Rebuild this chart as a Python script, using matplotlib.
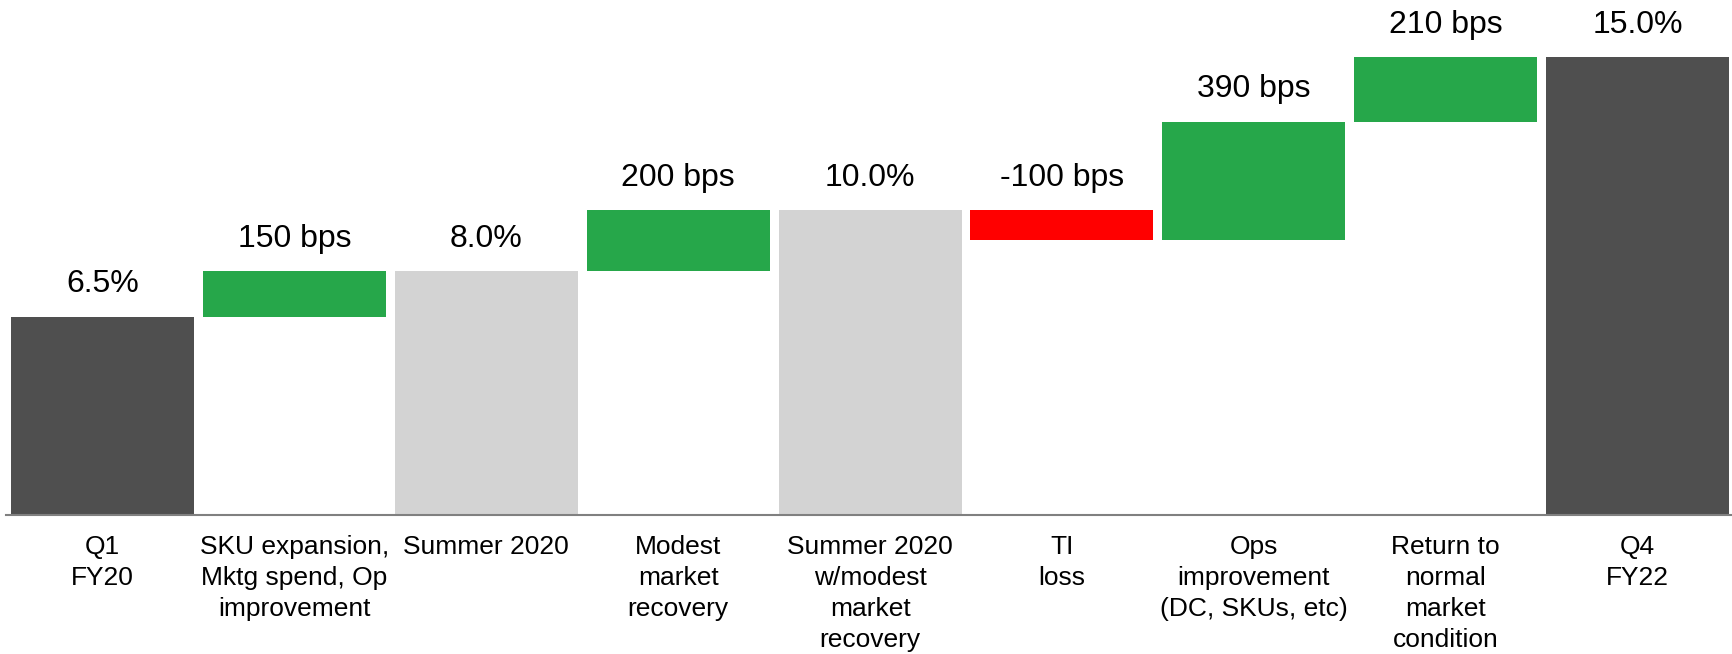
import numpy as np
import matplotlib.pyplot as plt

plt.rcParams['font.family'] = ['Liberation Sans', 'DejaVu Sans']

categories = ["Q1\nFY20", "SKU expansion,\nMktg spend, Op\nimprovement", "Summer 2020",
              "Modest\nmarket\nrecovery", "Summer 2020\nw/modest\nmarket\nrecovery",
              "TI\nloss", "Ops\nimprovement\n(DC, SKUs, etc)",
              "Return to\nnormal\nmarket\ncondition", "Q4\nFY22"]
values = [6.5, 1.5, 8.0, 2.0, 10.0, -1.0, 3.9, 2.1, 15.0]
kinds = ["total", "delta", "subtotal", "delta", "subtotal", "delta", "delta", "delta", "total"]

# colours per bar kind
def bar_color(kind, v):
    if kind == "total":
        return "#4f4f4f"
    if kind == "subtotal":
        return "#d3d3d3"
    return "#26a74a" if v >= 0 else "#ff0000"

W, H = 1733, 654
fig = plt.figure(figsize=(W / 100, H / 100), dpi=100)
base_px = 515
ax = fig.add_axes([6 / W, (H - base_px) / H, 1 - 6 / W, base_px / H])

period = 191.9
x = np.arange(len(values))
bottoms, heights = [], []
running = 0.0
for k, v in zip(kinds, values):
    if k == "delta":
        lo = running if v >= 0 else running + v
        bottoms.append(lo)
        heights.append(abs(v))
        running += v
    else:
        bottoms.append(0)
        heights.append(v)
        running = v

colors = [bar_color(k, v) for k, v in zip(kinds, values)]
ax.bar(x, heights, bottom=bottoms, width=183 / period, color=colors, zorder=2)

for i, (k, v) in enumerate(zip(kinds, values)):
    top = bottoms[i] + heights[i]
    txt = f"{v:.1f}%" if k != "delta" else f"{int(round(v * 100))} bps"
    ax.annotate(txt, (x[i], top), xytext=(0, 17.5), textcoords="offset points",
                ha="center", va="baseline", fontsize=23)

ax.set_xlim(-(102.5 - 6) / period, (W - 102.5) / period)
ax.set_ylim(0, base_px / 30.5)
ax.set_xticks(x, categories, fontsize=19, linespacing=1.37)
ax.tick_params(axis="x", length=0, pad=14.5)
ax.set_yticks([])
for s in ["top", "right", "left"]:
    ax.spines[s].set_visible(False)
ax.spines["bottom"].set_color("#808080")
ax.spines["bottom"].set_linewidth(1.5)
ax.spines["bottom"].set_zorder(3)

fig.savefig("out.png", dpi=100)
